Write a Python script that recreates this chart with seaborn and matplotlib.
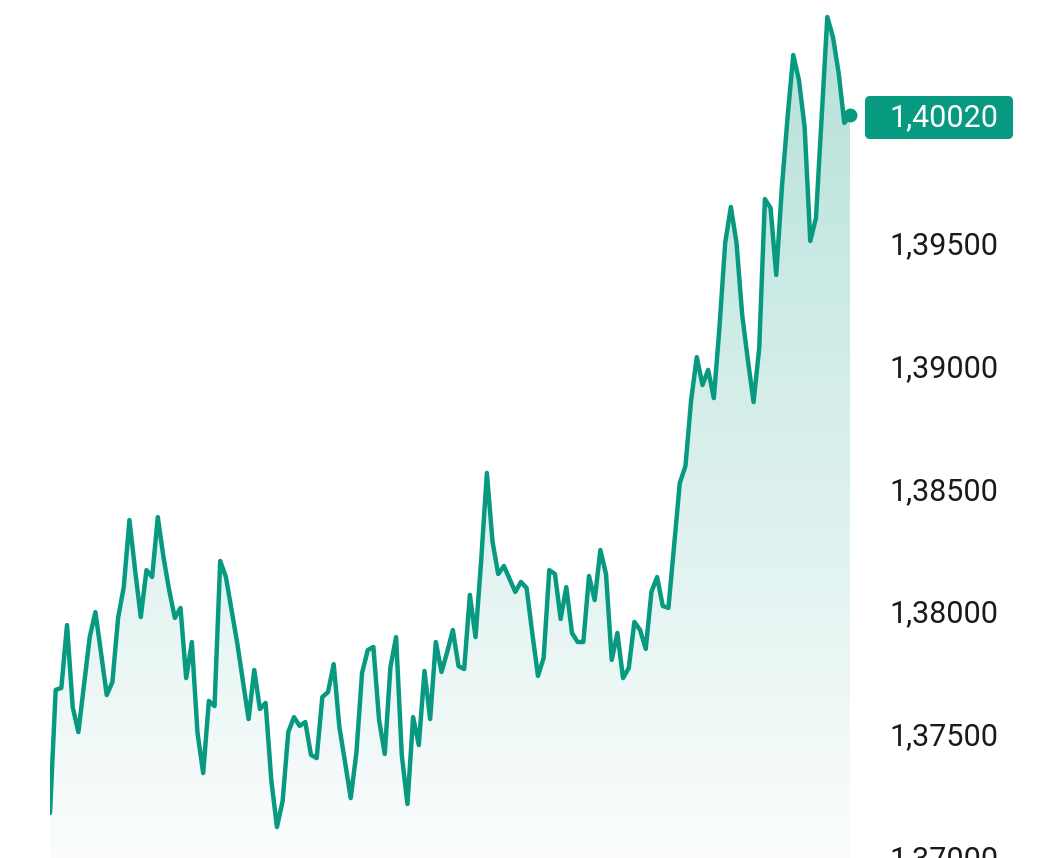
import matplotlib
matplotlib.use("Agg")
import matplotlib.pyplot as plt
import matplotlib.patches as mpatches
import matplotlib.transforms as mtransforms
from matplotlib.ticker import FuncFormatter
import numpy as np
import pandas as pd
import seaborn as sns

# closing prices (oldest first)
prices = [
    1.37177, 1.37679, 1.37687, 1.37943, 1.37609, 1.37507, 1.37699, 1.37894, 1.37996, 1.37829,
    1.37658, 1.37711, 1.37972, 1.38098, 1.38371, 1.38167, 1.37976, 1.38167, 1.38139, 1.38383,
    1.38220, 1.38086, 1.37972, 1.38013, 1.37727, 1.37874, 1.37503, 1.37340, 1.37634, 1.37613,
    1.38204, 1.38139, 1.38004, 1.37870, 1.37715, 1.37560, 1.37760, 1.37601, 1.37626, 1.37312,
    1.37120, 1.37226, 1.37507, 1.37568, 1.37532, 1.37548, 1.37414, 1.37401, 1.37650, 1.37670,
    1.37784, 1.37528, 1.37385, 1.37238, 1.37422, 1.37748, 1.37841, 1.37854, 1.37556, 1.37418,
    1.37772, 1.37894, 1.37414, 1.37214, 1.37568, 1.37454, 1.37756, 1.37560, 1.37874, 1.37752,
    1.37833, 1.37923, 1.37776, 1.37764, 1.38066, 1.37894, 1.38208, 1.38563, 1.38282, 1.38151,
    1.38184, 1.38131, 1.38078, 1.38119, 1.38094, 1.37911, 1.37736, 1.37809, 1.38167, 1.38151,
    1.37968, 1.38098, 1.37911, 1.37874, 1.37874, 1.38143, 1.38045, 1.38249, 1.38151, 1.37801,
    1.37911, 1.37727, 1.37768, 1.37956, 1.37923, 1.37846, 1.38078, 1.38139, 1.38021, 1.38013,
    1.38269, 1.38522, 1.38591, 1.38860, 1.39035, 1.38921, 1.38983, 1.38868, 1.39158, 1.39500,
    1.39647, 1.39500, 1.39207, 1.39023, 1.38852, 1.39072, 1.39679, 1.39643, 1.39370, 1.39728,
    1.40013, 1.40266, 1.40164, 1.39973, 1.39508, 1.39602, 1.40013, 1.40421, 1.40339, 1.40193,
    1.39989, 1.40020,
]
y_ticks = [1.370, 1.375, 1.380, 1.385, 1.390, 1.395]
last_label = "1,40020"

green = "#089981"
df = pd.DataFrame({"step": np.arange(len(prices)), "price": prices})

sns.set_theme(style="white")
plt.rcParams["font.family"] = ["Roboto", "DejaVu Sans"]

W, H = 1057, 858
fig = plt.figure(figsize=(W / 100, H / 100), dpi=100)
ax = fig.add_axes([50 / W, 0, 800 / W, 1])

ymin, ymax = 1.369939, 1.404902
ax.set_xlim(0, len(prices) - 1)
ax.set_ylim(ymin, ymax)

# gradient fill under the line
grad = np.linspace(0.02, 0.30, 256).reshape(-1, 1)
rgba = np.zeros((256, 1, 4))
rgba[..., :3] = matplotlib.colors.to_rgb(green)
rgba[..., 3] = grad
top = max(prices)
img = ax.imshow(rgba, origin="lower", aspect="auto",
                extent=[0, len(prices) - 1, ymin, top], zorder=1)
poly = ax.fill_between(df["step"], df["price"], ymin, color="none", lw=0)
clip = mpatches.PathPatch(poly.get_paths()[0], transform=ax.transData,
                          facecolor="none", edgecolor="none")
ax.add_patch(clip)
img.set_clip_path(clip)

sns.lineplot(data=df, x="step", y="price", color=green, lw=3.2, ax=ax, zorder=3)
ax.plot(df["step"].iloc[-1], prices[-1], "o", color=green, ms=9,
        clip_on=False, zorder=4)

for s in ax.spines.values():
    s.set_visible(False)
ax.set_xticks([])
ax.set_xlabel("")
ax.set_ylabel("")
ax.yaxis.tick_right()
ax.set_yticks(y_ticks)
ax.yaxis.set_major_formatter(FuncFormatter(lambda v, _: f"{v:.5f}".replace(".", ",")))
ax.tick_params(axis="y", length=0, pad=28.5, labelsize=22, labelcolor="#1a1a1a")

# last price badge
badge = mpatches.FancyBboxPatch((865, H - 139), 148, 43,
                                boxstyle="round,pad=0,rounding_size=5",
                                transform=mtransforms.IdentityTransform(),
                                facecolor=green, edgecolor="none", zorder=5)
fig.patches.append(badge)
fig.text(889 / W, 1 - 118 / H, last_label, color="white", fontsize=22,
         ha="left", va="center", zorder=6)

fig.savefig("out.png", dpi=100)
